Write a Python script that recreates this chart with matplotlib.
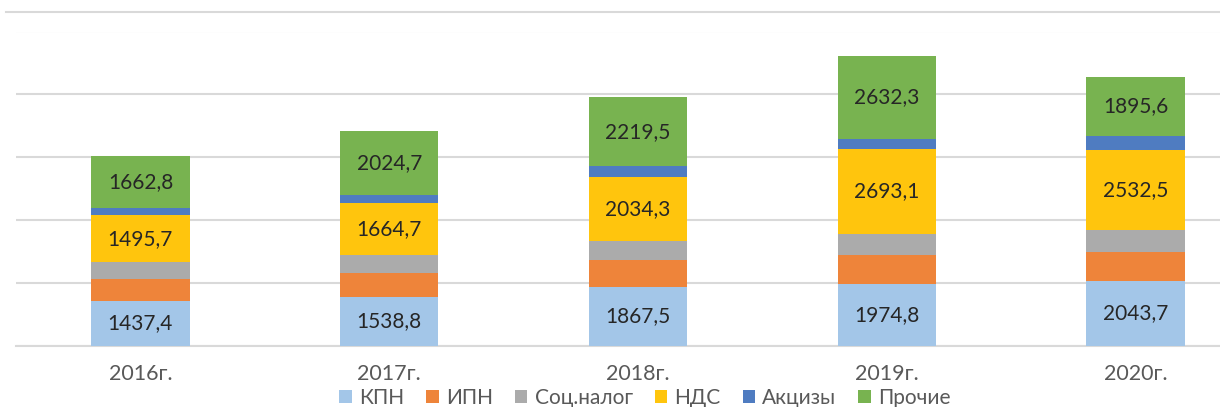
import numpy as np
import matplotlib
matplotlib.use("Agg")
import matplotlib.pyplot as plt
from matplotlib.lines import Line2D

plt.rcParams['font.family'] = ['Lato', 'DejaVu Sans']

# Tax revenue structure by year
years = ['2016г.', '2017г.', '2018г.', '2019г.', '2020г.']
kpn = [1437.4, 1538.8, 1867.5, 1974.8, 2043.7]
ipn = [700, 774, 858, 901, 933]
soc = [519, 572, 615, 689, 710]
nds = [1495.7, 1664.7, 2034.3, 2693.1, 2532.5]
akcizy = [223, 244, 329, 329, 445]
prochie = [1662.8, 2024.7, 2219.5, 2632.3, 1895.6]

series = [
    ('КПН', kpn, '#A3C6E8', True),
    ('ИПН', ipn, '#EE843A', False),
    ('Соц.налог', soc, '#ABABAB', False),
    ('НДС', nds, '#FFC50D', True),
    ('Акцизы', akcizy, '#4F7CC1', False),
    ('Прочие', prochie, '#78B350', True),
]

W, H = 1220, 407
fig = plt.figure(figsize=(W / 100, H / 100), dpi=100)
# plot area runs past the right edge of the image
left, right = 16, 1260
top, bottom = 31.5, 345.7
ax = fig.add_axes([left / W, 1 - bottom / H, (right - left) / W, (bottom - top) / H])

x = np.arange(len(years))
base = np.zeros(len(years))
handles = []
for name, vals, color, labelled in series:
    vals = np.array(vals, dtype=float)
    bars = ax.bar(x, vals, width=0.395, bottom=base, color=color, label=name, zorder=3)
    handles.append(bars)
    if labelled:
        for xi, b, v in zip(x, base, vals):
            ax.text(xi, b + v / 2, f"{v:.1f}".replace('.', ','), ha='center', va='center',
                    fontsize=15, color='#262626', zorder=4)
    base += vals

ax.set_xlim(-0.5, 4.5)
ax.set_ylim(0, 10000)
ax.set_yticks(np.arange(0, 10001, 2000))
ax.yaxis.grid(True, color='#D9D9D9', linewidth=1.5, zorder=0)
ax.tick_params(axis='y', left=False, labelleft=False)
ax.tick_params(axis='x', bottom=False, length=0, pad=13, labelsize=15.5, labelcolor='#595959')
ax.set_xticks(x)
ax.set_xticklabels(years)
for side in ['top', 'right', 'left']:
    ax.spines[side].set_visible(False)
ax.spines['bottom'].set_color('#D9D9D9')
ax.spines['bottom'].set_linewidth(1.5)

# chart border line at the top
fig.add_artist(Line2D([6 / W, 1], [1 - 12 / H, 1 - 12 / H], color='#D9D9D9', linewidth=1.5))

fig.legend(handles=handles, loc='center', bbox_to_anchor=(645 / W, 1 - 398 / H), ncol=6,
           frameon=False, fontsize=15, labelcolor='#595959', handlelength=0.6, handleheight=0.6,
           handletextpad=0.35, columnspacing=1.05, borderpad=0)

fig.savefig('out.png', dpi=100, facecolor='white')
